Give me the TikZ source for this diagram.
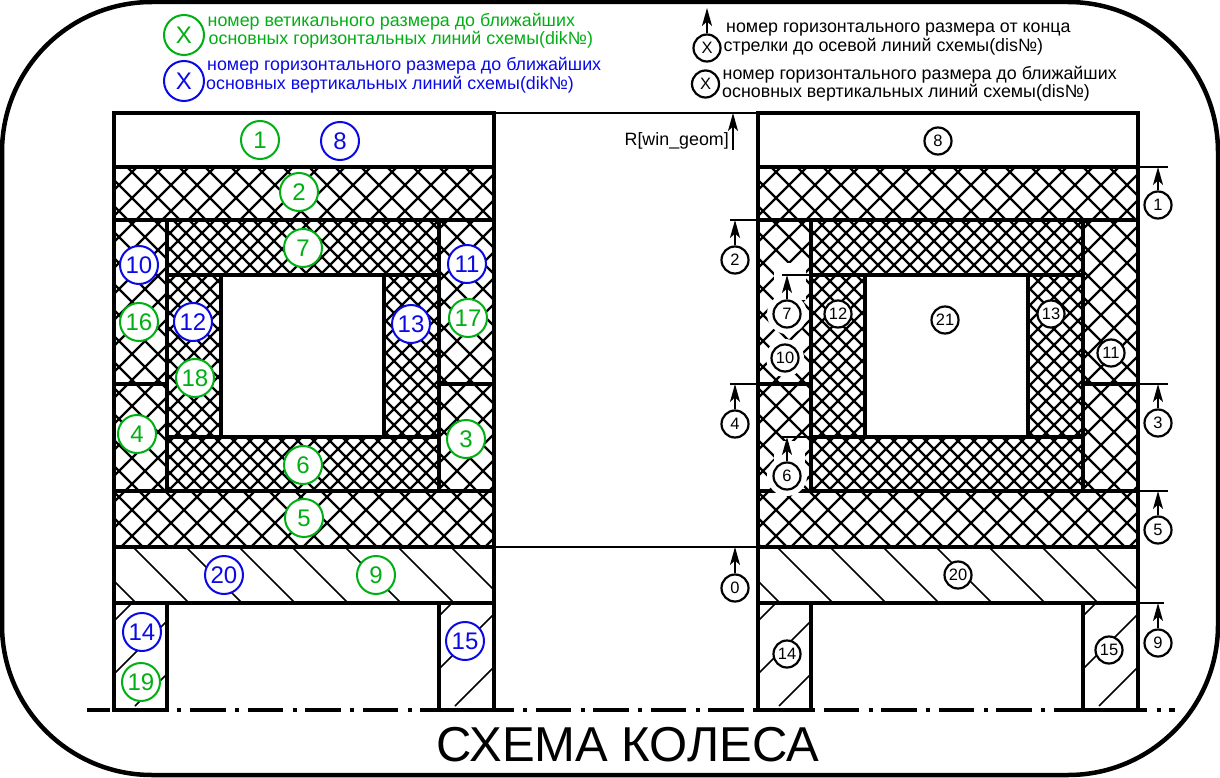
\documentclass[tikz,border=0pt]{standalone}
\usepackage{fontspec}
\setmainfont{Liberation Sans}
\usetikzlibrary{arrows.meta}
\definecolor{gr}{HTML}{00AF14}
\definecolor{bl}{HTML}{0A0AE6}
\newcommand{\hdn}[6]{\begin{scope}
 \clip (#1,#2) rectangle (#3,#4);
 \pgfmathtruncatemacro\ka{floor((#1-#4-(#6))/#5)}
 \pgfmathtruncatemacro\kb{ceil((#3-#2-(#6))/#5)}
 \foreach \k in {\ka,...,\kb}{\pgfmathsetmacro\cc{#6+\k*#5}
  \draw[hatchline] ({\cc+#2},#2) -- ({\cc+#4},#4);}
 \end{scope}}
\newcommand{\hup}[6]{\begin{scope}
 \clip (#1,#2) rectangle (#3,#4);
 \pgfmathtruncatemacro\ka{floor((#1+#2-(#6))/#5)}
 \pgfmathtruncatemacro\kb{ceil((#3+#4-(#6))/#5)}
 \foreach \k in {\ka,...,\kb}{\pgfmathsetmacro\cc{#6+\k*#5}
  \draw[hatchline] ({\cc-#2},#2) -- ({\cc-#4},#4);}
 \end{scope}}
\newcommand{\hx}[7]{\hdn{#1}{#2}{#3}{#4}{#5}{#6}\hup{#1}{#2}{#3}{#4}{#5}{#7}}
\newcommand{\wheelbody}{%
 \hx{114}{167}{494}{220}{26}{-14}{382}
 \hx{114}{491}{494}{547}{26}{-14}{382}
 \hx{114}{220}{167}{491}{26}{-14}{382}
 \hx{439}{220}{494}{491}{26}{-14}{382}
 \hx{167}{220}{439}{275}{16}{113}{675}
 \hx{167}{437}{439}{491}{16}{113}{675}
 \hx{167}{275}{221}{437}{16}{113}{675}
 \hx{384}{275}{439}{437}{16}{113}{675}
 \begin{scope}[hatchline/.style={line width=1.7pt,black}]
 \hdn{114}{547}{494}{603}{53}{-414}
 \hup{114}{603}{167}{706}{53}{735}
 \hup{439}{603}{494}{706}{53}{1055}
 \end{scope}
 \draw[thick line] (114,710) -- (114,113) -- (494,113) -- (494,710);
 \draw[thick line] (114,167) -- (494,167);
 \draw[thick line] (114,220) -- (494,220);
 \draw[thick line] (114,491) -- (494,491);
 \draw[thick line] (114,547) -- (494,547);
 \draw[thick line] (114,603) -- (494,603);
 \draw[thick line] (167,220) -- (167,491);
 \draw[thick line] (439,220) -- (439,491);
 \draw[thick line] (167,275) -- (439,275);
 \draw[thick line] (167,437) -- (439,437);
 \draw[thick line] (221,275) -- (221,437);
 \draw[thick line] (384,275) -- (384,437);
 \draw[thick line] (114,384) -- (167,384);
 \draw[thick line] (439,384) -- (494,384);
 \draw[thick line] (167,603) -- (167,710);
 \draw[thick line] (439,603) -- (439,710);
}
\tikzset{
 hatchline/.style={line width=2.2pt,black},
 thick line/.style={line width=4.6pt,black,line cap=rect},
 thin line/.style={line width=1.7pt,black},
 gc/.style={circle,draw=gr,text=gr,fill=white,line width=2pt,minimum size=38pt,inner sep=0pt,font=\fontsize{24}{24}\selectfont},
 bc/.style={circle,draw=bl,text=bl,fill=white,line width=2pt,minimum size=38pt,inner sep=0pt,font=\fontsize{24}{24}\selectfont},
 kc/.style={circle,draw=black,text=black,fill=white,line width=2.2pt,minimum size=27pt,inner sep=0pt,font=\fontsize{16.5}{16.5}\selectfont},
 dimarrow/.style={line width=1.8pt,black,-{Stealth[length=18pt,width=10pt,inset=4.5pt]}},
 legend/.style={anchor=base west,inner sep=0pt,font=\fontsize{17.85}{17.85}\selectfont},
 halo/.style={fill=white,draw=none},
}
\begin{document}
\begin{tikzpicture}[x=1pt,y=-1pt]
\useasboundingbox (0,0) rectangle (1220,778);
\fill[white] (0,0) rectangle (1220,778);
\draw[line width=4.5pt,rounded corners=150pt] (2,2) rectangle (1218,775);
% bodies
\wheelbody
\begin{scope}[xshift=644pt]\wheelbody\end{scope}
% white areas cleared round the right-hand callouts
\fill[halo] (787,314) circle (20);
\fill[halo] (774,263) rectangle (806,300);
\fill[halo] (785,358) circle (19);
\fill[halo] (787,476) circle (20);
\fill[halo] (774,441) rectangle (805,470);
% centre line
\draw[line width=3.5pt,dash pattern=on 35.5pt off 9.5pt on 4pt off 8.6pt,dash phase=12.2pt] (87,710) -- (1175,710);
\draw[line width=4.6pt,line cap=rect] (114,710) -- (167,710);
\draw[line width=4.6pt,line cap=rect] (439,710) -- (494,710);
\draw[line width=4.6pt,line cap=rect] (758,710) -- (811,710);
\draw[line width=4.6pt,line cap=rect] (1083,710) -- (1138,710);
% thin lines
\coordinate (la) at (494,113); \coordinate (lb) at (758,113);
\coordinate (lc) at (494,547); \coordinate (ld) at (758,547);
\draw[thin line] (la) -- (lb);
\draw[thin line] (lc) -- (ld);
% left callouts
\node[gc] (g1) at (260,140) {1};
\node[bc] (b8) at (340,141) {8};
\node[gc] (g2) at (299,192) {2};
\node[gc] (g7) at (303,248) {7};
\node[bc] (b10) at (139,265) {10};
\node[bc] (b11) at (467,264) {11};
\node[gc] (g16) at (139,322) {16};
\node[bc] (b12) at (193,322) {12};
\node[bc] (b13) at (411,324) {13};
\node[gc] (g17) at (468,318) {17};
\node[gc] (g18) at (195,378) {18};
\node[gc] (g4) at (137,434) {4};
\node[gc] (g3) at (466,439) {3};
\node[gc] (g6) at (303,465) {6};
\node[gc] (g5) at (304,518) {5};
\node[bc] (b20) at (224,575) {20};
\node[gc] (g9) at (376,575) {9};
\node[bc] (b14) at (142,632) {14};
\node[gc] (g19) at (141,682) {19};
\node[bc] (b15) at (465,641) {15};
% right plain callouts
\node[kc] (k8) at (938,141) {8};
\node[kc] (k12) at (838,314) {12};
\node[kc] (k13) at (1051,314) {13};
\node[kc] (k21) at (945,320) {21};
\node[kc] (k10) at (785,358) {10};
\node[kc] (k11) at (1111,353) {11};
\node[kc] (k20) at (958,575) {20};
\node[kc] (k14) at (787,654) {14};
\node[kc] (k15) at (1109,650) {15};
% dimension callouts
\node[kc] (d1) at (1158,205) {1};
\coordinate (t1) at (1158,167); \coordinate (e1a) at (1138,167); \coordinate (e1b) at (1168,167);
\node[kc] (d2) at (735,260) {2};
\coordinate (t2) at (735,220); \coordinate (e2a) at (730,220); \coordinate (e2b) at (758,220);
\node[kc] (d3) at (1158,423) {3};
\coordinate (t3) at (1158,384); \coordinate (e3a) at (1138,384); \coordinate (e3b) at (1168,384);
\node[kc] (d4) at (735,424) {4};
\coordinate (t4) at (735,384); \coordinate (e4a) at (730,384); \coordinate (e4b) at (758,384);
\node[kc] (d5) at (1158,530) {5};
\coordinate (t5) at (1158,491); \coordinate (e5a) at (1138,491); \coordinate (e5b) at (1168,491);
\node[kc] (d0) at (735,588) {0};
\coordinate (t0) at (735,547);
\node[kc] (d9) at (1158,643) {9};
\coordinate (t9) at (1158,603); \coordinate (e9a) at (1138,603); \coordinate (e9b) at (1164,603);
\node[kc] (d7) at (787,314) {7};
\coordinate (t7) at (787,275); \coordinate (e7a) at (782,275); \coordinate (e7b) at (811,275);
\node[kc] (d6) at (787,476) {6};
\coordinate (t6) at (787,437); \coordinate (e6a) at (782,437); \coordinate (e6b) at (811,437);
\foreach \n in {1,2,3,4,5,9,7,6}{\draw[thin line] (e\n a) -- (e\n b);}
\foreach \n in {1,2,3,4,5,0,9,7,6}{\draw[dimarrow] (d\n) -- (t\n);}
% R[win_geom]
\node[anchor=base east,inner sep=0pt,font=\fontsize{17.85}{17.85}\selectfont] (rw) at (729,146) {R[win\_geom]};
\coordinate (ra) at (733,150); \coordinate (rb) at (733,113);
\draw[dimarrow] (ra) -- (rb);
% legend
\node[gc,minimum size=40pt] (lg) at (184,35) {X};
\node[bc,minimum size=40pt] (lb1) at (184,81) {X};
\node[legend,text=gr] (t1a) at (207.5,27) {номер ветикального размера до ближайших};
\node[legend,text=gr] (t1b) at (208.5,45) {основных горизонтальных линий схемы(dik№)};
\node[legend,text=bl] (t2a) at (207,71) {номер горизонтального размера до ближайших};
\node[legend,text=bl] (t2b) at (206,89.5) {основных вертикальных линий схемы(dik№)};
\node[kc] (lk1) at (707,48) {X};
\coordinate (lk1t) at (707,8);
\draw[dimarrow] (lk1) -- (lk1t);
\node[kc] (lk2) at (705.5,84) {X};
\node[legend] (t3a) at (726,33) {номер горизонтального размера от конца};
\node[legend] (t3b) at (723.5,51.5) {стрелки до осевой линий схемы(dis№)};
\node[legend] (t4a) at (722.5,80) {номер горизонтального размера до ближайших};
\node[legend] (t4b) at (722,98) {основных вертикальных линий схемы(dis№)};
\node[inner sep=0pt,font=\fontsize{49}{49}\selectfont] (title) at (628,745) {СХЕМА КОЛЕСА};
\end{tikzpicture}
\end{document}
